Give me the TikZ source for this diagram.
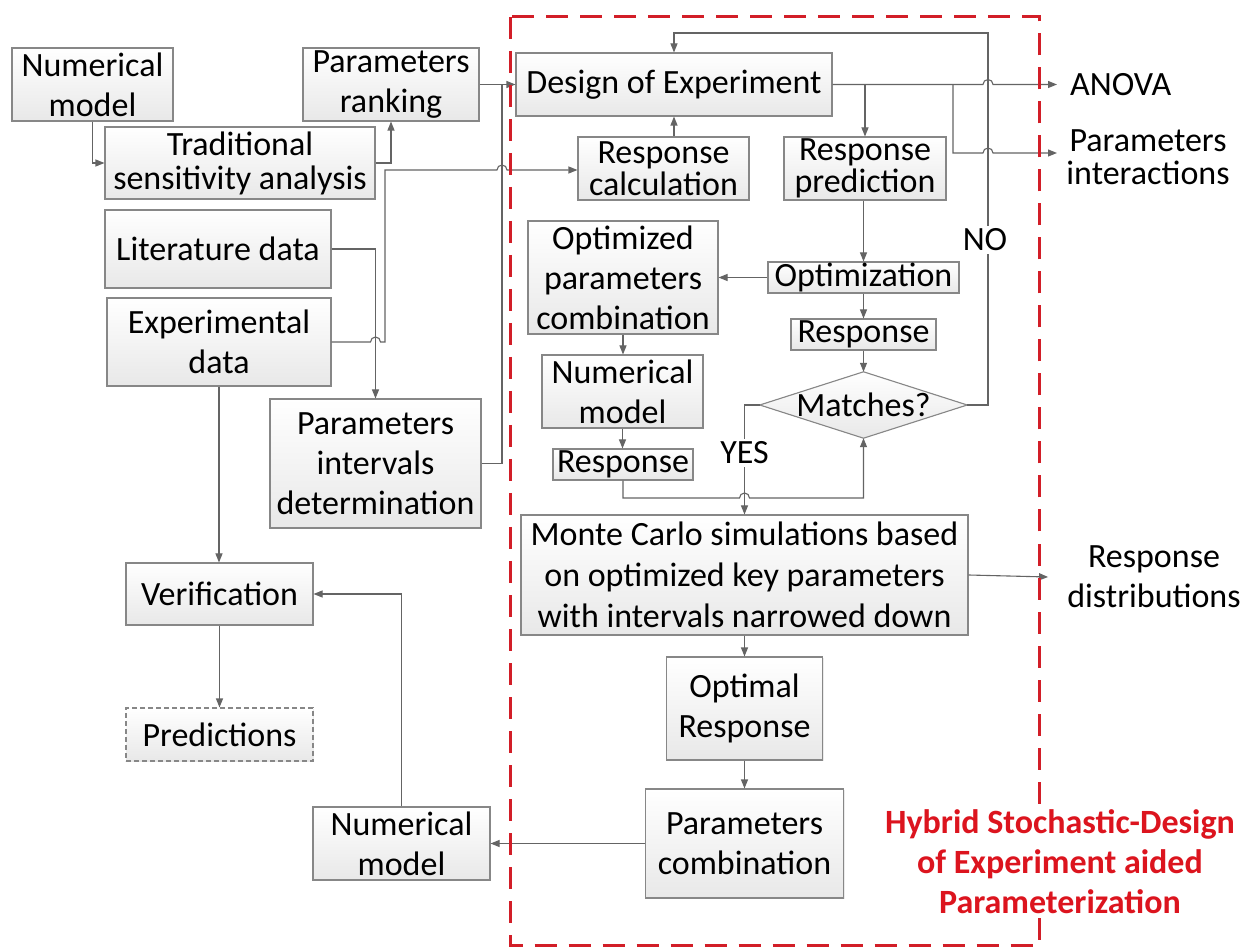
\documentclass[tikz,border=0pt]{standalone}
\usepackage{fontspec}
\setmainfont{Carlito}
\usetikzlibrary{arrows.meta,shadows}
\definecolor{boxgray}{RGB}{135,135,135}
\definecolor{linegray}{RGB}{100,100,100}
\definecolor{hybred}{RGB}{220,20,30}
\definecolor{dashred}{RGB}{210,30,40}
\begin{document}
\begin{tikzpicture}[x=1pt,y=-1pt,
  box/.style={draw=boxgray, line width=1.1pt, top color=white, bottom color=black!9,
    inner sep=0pt, align=center, font=\fontsize{34}{40}\selectfont,
    drop shadow={shadow xshift=1.2pt, shadow yshift=-1.2pt, fill=black!15, opacity=0.5}},
  lbl/.style={inner sep=0pt, align=center, font=\fontsize{34}{40}\selectfont},
  conn/.style={draw=linegray, line width=1.1pt},
  arr/.style={conn, -{Triangle[length=9pt,width=7pt]}},
  jr/.style={radius=5pt}
]
\useasboundingbox (0,0) rectangle (1254,949);
\fill[white] (0,0) rectangle (1254,949);

% ---- left column
\node[box, minimum width=161pt, minimum height=73pt] (nm1) at (92.5,84.5) {Numerical\\model};
\node[box, minimum width=176pt, minimum height=73pt] (pr) at (391,84.5) {Parameters\\ranking};
\node[box, minimum width=270pt, minimum height=72pt, font=\fontsize{34}{34}\selectfont] (tsa) at (240,163) {Traditional\\sensitivity analysis};
\node[box, minimum width=226pt, minimum height=78pt] (lit) at (218,249) {Literature data};
\node[box, minimum width=224pt, minimum height=88pt] (exp) at (219,342) {Experimental\\data};
\node[box, minimum width=211pt, minimum height=129pt] (pid) at (375.5,463.5) {Parameters\\intervals\\determination};
\node[box, minimum width=187pt, minimum height=62pt] (ver) at (219.5,594) {Verification};
\node[box, dashed, dash pattern=on 5pt off 3pt, minimum width=187pt, minimum height=53pt] (pred) at (219.5,734.5) {Predictions};
\node[box, minimum width=177pt, minimum height=73pt] (nm3) at (401.5,843.5) {Numerical\\model};

% ---- inner column
\node[box, minimum width=316pt, minimum height=63pt] (doe) at (674,84.5) {Design of Experiment};
\node[box, minimum width=171pt, minimum height=63pt, font=\fontsize{34}{32}\selectfont] (rc) at (663.5,168.5) {Response\\calculation};
\node[box, minimum width=162pt, minimum height=63pt, font=\fontsize{34}{32}\selectfont] (rp) at (865,168.5) {Response\\prediction};
\node[box, minimum width=190pt, minimum height=113pt] (opc) at (623,277.5) {Optimized\\parameters\\combination};
\node[box, minimum width=191pt, minimum height=31pt] (opt) at (863.5,277.5) {Optimization};
\node[box, minimum width=145pt, minimum height=31pt] (resp1) at (863.5,334.5) {Response};
\node[box, minimum width=161pt, minimum height=73pt] (nm2) at (622.5,391.5) {Numerical\\model};
\node[box, minimum width=140pt, minimum height=31pt] (resp2) at (623,464.5) {Response};
\node[inner sep=0pt, minimum width=207pt, minimum height=66pt] (match) at (863.5,405) {};
\fill[top color=white, bottom color=black!9] (match.west) -- (match.north) -- (match.east) -- (match.south) -- cycle;
\draw[draw=boxgray, line width=1.1pt] (match.west) -- (match.north) -- (match.east) -- (match.south) -- cycle;
\node[lbl] at (match.center) {Matches?};
\node[box, minimum width=447pt, minimum height=120pt, font=\fontsize{34}{41}\selectfont] (mc) at (744.5,575) {Monte Carlo simulations based\\on optimized key parameters\\with intervals narrowed down};
\node[box, minimum width=156pt, minimum height=103pt] (orsp) at (744.5,708.5) {Optimal\\Response};
\node[box, minimum width=198pt, minimum height=109pt] (pc) at (744.5,843.5) {Parameters\\combination};

% ---- outputs
\node[lbl, anchor=west] (anova) at (1070,84.5) {ANOVA};
\node[lbl, font=\fontsize{34}{33}\selectfont] (pint) at (1148,157) {Parameters\\interactions};
\node[lbl] (rdist) at (1154,577) {Response\\distributions};

% ---- connectors
\draw[arr] (nm1.south) |- (tsa.west);
\draw[arr] (tsa.east) -| (pr.south);
\draw[arr] (pr.east) -- (doe.west);
\coordinate (j1) at (502,84.5);
\draw[conn] (pid.east) -| (j1);
\draw[arr] (lit.east) -| (pid.north);
\draw[arr] (exp.east) -- (370.5,342) arc[start angle=180,end angle=0,jr] -- (385,342) -- (385,170) -- (497,170) arc[start angle=180,end angle=0,jr] -- (rc.west |- 0,170);
\draw[arr] (exp.south) -- (exp.south |- ver.north);
\draw[arr] (ver.south) -- (pred.north);
\draw[arr] (pc.west) -- (nm3.east);
\draw[arr] (nm3.north) |- (ver.east);

\coordinate (fb) at (988,33);
\draw[arr] (match.east) -| (fb) -| (doe.north);
\draw[arr] (doe.east) -- (983,84.5) arc[start angle=180,end angle=0,jr] -- ([xshift=-13pt]anova.west);
\draw[arr] (rp.north |- doe.east) -- (rp.north);
\draw[arr] (953,84.5) -- (953,153) -- (983,153) arc[start angle=180,end angle=0,jr] -- (1057,153);
\draw[arr] (doe.south |- rc.north) -- (doe.south);
\draw[arr] (opt.north |- rp.south) -- (opt.north);
\draw[arr] (opt.west) -- (opc.east);
\draw[arr] (opt.south) -- (resp1.north);
\draw[arr] (resp1.south) -- (match.north);
\draw[arr] (opc.south) -- (opc.south |- nm2.north);
\draw[arr] (nm2.south) -- (nm2.south |- resp2.north);
\draw[arr] (match.west) -| (mc.north);
\draw[arr] (resp2.south) |- (739.5,498) arc[start angle=180,end angle=0,jr] -| (match.south);
\draw[arr] (mc.south) -- (orsp.north);
\draw[arr] (orsp.south) -- (pc.north);
\draw[arr] (mc.east) -- ([xshift=-19pt]rdist.west);

\node[lbl, fill=white, inner sep=3pt] at (985,240) {NO};
\node[lbl, fill=white, inner sep=3pt] at (744.5,453) {YES};

% ---- red dashed region
\draw[dashred, line width=3pt, dash pattern=on 22pt off 12pt] (510.5,17) rectangle (1039,945);
\node[lbl, fill=white, inner sep=4pt, text=hybred, font=\fontsize{34}{40}\selectfont\bfseries] at (1060,862) {Hybrid Stochastic-Design\\of Experiment aided\\Parameterization};
\end{tikzpicture}
\end{document}
